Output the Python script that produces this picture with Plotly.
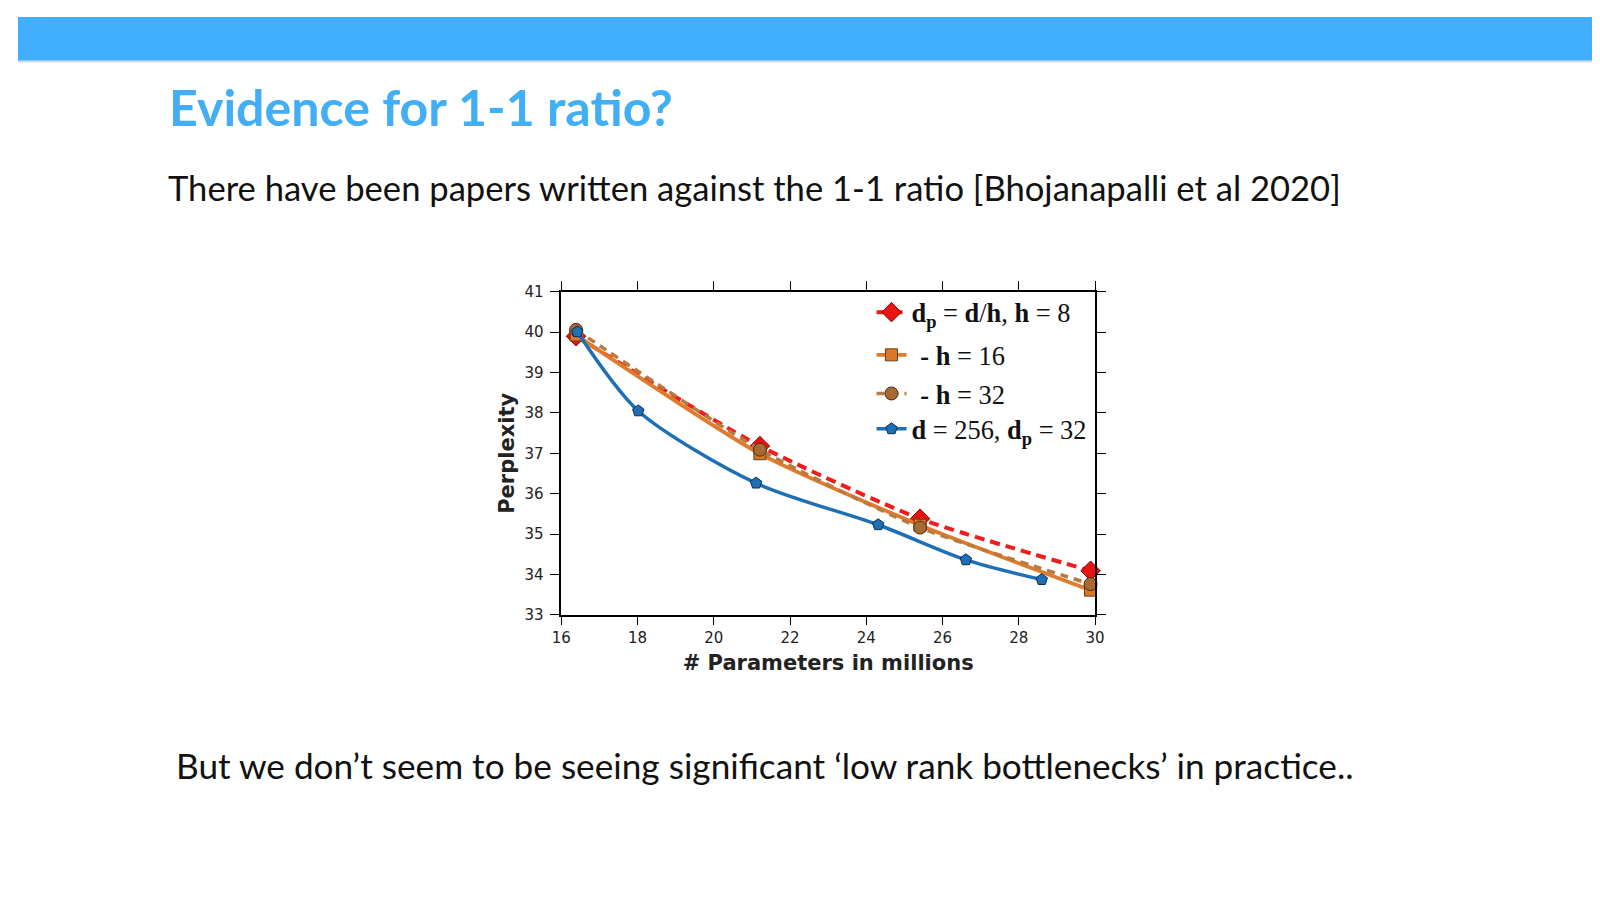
import plotly.graph_objects as go

# ---- data ----
x_h8 = [16.39, 21.21, 25.41, 29.88]
y_h8 = [39.90, 37.18, 35.38, 34.09]

x_h16 = [16.39, 21.21, 25.41, 29.88]
y_h16 = [39.93, 36.99, 35.22, 33.61]

x_h32 = [16.39, 21.21, 25.41, 29.88]
y_h32 = [40.06, 37.09, 35.16, 33.76]

x_d256 = [16.42, 18.02, 21.11, 24.31, 26.61, 28.60]
y_d256 = [40.01, 38.05, 36.26, 35.23, 34.36, 33.87]

x_ticks = [16, 18, 20, 22, 24, 26, 28, 30]
y_ticks = [33, 34, 35, 36, 37, 38, 39, 40, 41]

names = [
    "<b>d</b><sub><b>p</b></sub> = <b>d</b>/<b>h</b>, <b>h</b> = 8",
    "\u00a0\u200a<b>-</b> <b>h</b> = 16",
    "\u00a0\u200a<b>-</b> <b>h</b> = 32",
    "<b>d</b> = 256, <b>d</b><sub><b>p</b></sub> = 32",
]

W, H = 1600, 900
KX, KY = 1616 / 1600, 916 / 900
SX, SY = 8.2, 8.7          # extra shift (figure px) to line up with the reference


def rx(p):
    """reference pixel (x) -> figure pixel"""
    return p * KX - 8 - SX


def ry(p):
    return p * KY - 8 - SY


def fx(p):          # figure pixel -> paper (includes the shift)
    return (p - SX) / W


def fy(p):
    return 1 - (p - SY) / H


def px_(p):         # already-shifted figure pixel -> paper
    return p / W


def py_(p):
    return 1 - p / H


fig = go.Figure()

fig.add_trace(go.Scatter(
    x=x_h8, y=y_h8, mode="lines+markers", name=names[0], legend="legend",
    line=dict(color="#ee1c1c", width=4, dash="10px,6px", shape="spline", smoothing=0.6),
    marker=dict(symbol="diamond", size=15, color="#e81414", line=dict(color="#8b0000", width=1)),
    cliponaxis=False,
))
fig.add_trace(go.Scatter(
    x=x_h16, y=y_h16, mode="lines+markers", name=names[1], legend="legend2",
    line=dict(color="#e07a2c", width=3.8, shape="spline", smoothing=0.6),
    marker=dict(symbol="square", size=12, color="#d9772b", line=dict(color="#6b3a10", width=1)),
    cliponaxis=False,
))
fig.add_trace(go.Scatter(
    x=x_h32, y=y_h32, mode="lines+markers", name=names[2], legend="legend3",
    line=dict(color="#b87a3e", width=3.5, dash="8px,6px", shape="spline", smoothing=0.6),
    marker=dict(symbol="circle", size=13, color="#a86a33", line=dict(color="#4d2e10", width=1)),
    cliponaxis=False,
))
fig.add_trace(go.Scatter(
    x=x_d256, y=y_d256, mode="lines+markers", name=names[3], legend="legend4",
    line=dict(color="#1f6fb5", width=3.5, shape="spline", smoothing=0.8),
    marker=dict(symbol="pentagon", size=12, color="#1f6fb5", line=dict(color="#0b2f55", width=1)),
    cliponaxis=False,
))

axis_common = dict(
    showline=True, linecolor="black", linewidth=1.5, mirror="ticks",
    ticks="outside", ticklen=9, tickwidth=1.3, tickcolor="black",
    showgrid=False, zeroline=False,
    tickfont=dict(family="DejaVu Sans", size=15, color="#222222"),
)

fig.update_xaxes(
    range=[16, 30], tickvals=x_ticks, domain=[px_(rx(560.7)), px_(rx(1096))],
    title=dict(text="<b># Parameters in millions</b>",
               font=dict(family="DejaVu Sans", size=21, color="#222222"), standoff=9),
    **axis_common,
)
fig.update_yaxes(
    range=[33, 41], tickvals=y_ticks, domain=[py_(ry(615.7)), py_(ry(292))],
    title=dict(text="<b>Perplexity</b>",
               font=dict(family="DejaVu Sans", size=21, color="#222222"), standoff=4),
    ticklabelstandoff=4,
    **axis_common,
)

leg_font = dict(family="Liberation Serif", size=26.4, color="#111111")
leg_common = dict(font=leg_font, bgcolor="rgba(0,0,0,0)", borderwidth=0,
                  xanchor="left", yanchor="middle", x=fx(872.5), visible=True)
legend_y = [310.2, 353.8, 393.2, 429.3]   # figure pixels before shift

fig.update_layout(
    width=W, height=H,
    showlegend=True,
    margin=dict(l=0, r=0, t=0, b=0),
    paper_bgcolor="white", plot_bgcolor="white",
    legend=dict(y=fy(legend_y[0]), **leg_common),
    legend2=dict(y=fy(legend_y[1]), **leg_common),
    legend3=dict(y=fy(legend_y[2]), **leg_common),
    legend4=dict(y=fy(legend_y[3]), **leg_common),
    shapes=[
        dict(type="rect", xref="paper", yref="paper", x0=0, x1=1,
             y0=py_(ry(62)), y1=1, fillcolor="#d5dde2", line=dict(width=0), layer="below"),
        dict(type="rect", xref="paper", yref="paper", x0=0, x1=1,
             y0=py_(ry(60)), y1=1, fillcolor="#42aeff", line=dict(width=0), layer="below"),
    ],
    annotations=[
        dict(text="<b>Evidence for 1-1 ratio?</b>", xref="paper", yref="paper",
             x=fx(159.5), y=fy(100.3), xanchor="left", yanchor="middle", showarrow=False,
             font=dict(family="Lato", size=50.1, color="#42aef6")),
        dict(text="There have been papers written against the 1-1 ratio [Bhojanapalli et al 2020]",
             xref="paper", yref="paper", x=fx(157.8), y=fy(183.0), xanchor="left",
             yanchor="middle", showarrow=False,
             font=dict(family="Lato", size=34.6, color="#111111")),
        dict(text="But we don\u2019t seem to be seeing significant \u2018low rank bottlenecks\u2019 in practice..",
             xref="paper", yref="paper", x=fx(166.3), y=fy(771.5), xanchor="left",
             yanchor="middle", showarrow=False,
             font=dict(family="Lato", size=35.2, color="#111111")),
    ],
)

fig.write_html("out.html", config={"displayModeBar": False})
